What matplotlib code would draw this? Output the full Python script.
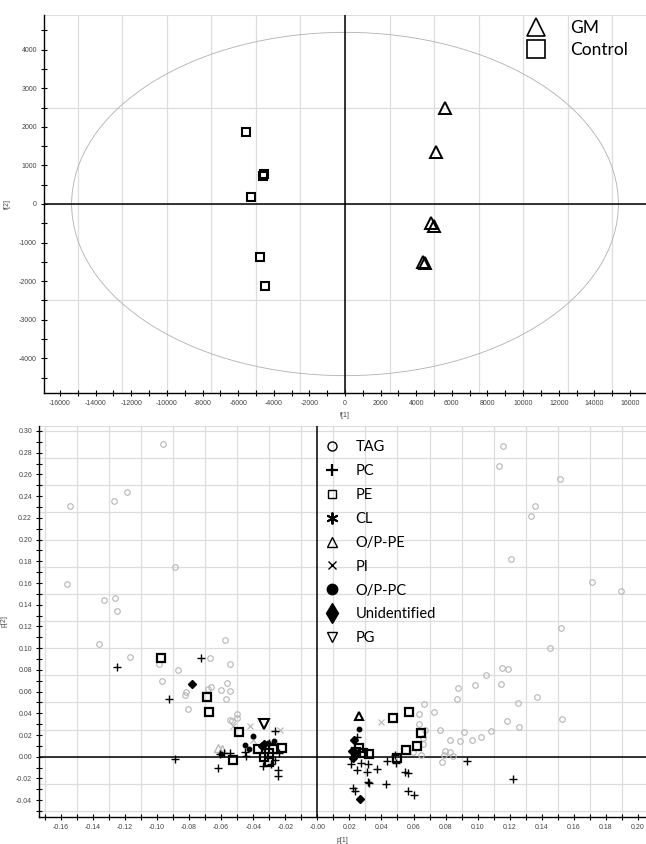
import numpy as np
import matplotlib.pyplot as plt
from matplotlib.patches import Ellipse
from matplotlib.lines import Line2D
from matplotlib.ticker import MultipleLocator, FuncFormatter

plt.rcParams['font.family'] = ['Liberation Sans', 'DejaVu Sans']

# ==============================
# SCORES (t[1], t[2])
# ==============================
gm_t1 = [5600, 5090, 4830, 5015, 4400, 4510]
gm_t2 = [2480, 1355, -485, -570, -1495, -1540]
ctrl_t1 = [-5575, -4550, -4600, -5300, -4750, -4500]
ctrl_t2 = [1873, 780, 730, 190, -1370, -2115]
ellipse_t1 = 15350
ellipse_t2 = 4450

# ==============================
# LOADINGS (p[1], p[2])
# ==============================
tag_p1 = [-0.096, -0.154, -0.127, -0.119, -0.0886, -0.156, -0.133, -0.1264, -0.125, -0.1364,
          -0.1168, -0.0986, -0.0967, -0.0869, -0.0576, -0.0667, -0.0547, -0.0563, -0.0545, -0.0603,
          -0.0571, -0.0665, -0.0682, -0.0817, -0.0827, -0.0807, -0.0503, -0.0503, -0.0547, -0.0532,
          0.1157, 0.1134, 0.1516, 0.1358, 0.1331, 0.121, 0.1714, 0.1895, 0.152, 0.145,
          0.115, 0.1188, 0.105, 0.1146, 0.0984, 0.0876, 0.0872, 0.1371, 0.1252, 0.0668,
          0.0728, 0.0634, 0.1527, 0.1183, 0.0634, 0.126, 0.0672, 0.0763, 0.0915, 0.1085,
          0.0661, 0.0826, 0.089, 0.0965, 0.1019, 0.0659, 0.0797, 0.0828, 0.0595, 0.0787,
          0.0848, 0.0647, 0.0776]
tag_p2 = [0.288, 0.231, 0.2355, 0.244, 0.1747, 0.159, 0.1443, 0.1465, 0.1345, 0.1038,
          0.0915, 0.0857, 0.0697, 0.0796, 0.1072, 0.0912, 0.0857, 0.0682, 0.0608, 0.0617,
          0.0531, 0.0639, 0.0621, 0.0599, 0.0566, 0.0442, 0.0396, 0.036, 0.0341, 0.0326,
          0.2862, 0.2675, 0.2555, 0.2309, 0.2217, 0.1824, 0.1609, 0.1526, 0.1186, 0.1001,
          0.0814, 0.0808, 0.075, 0.0672, 0.066, 0.0633, 0.0529, 0.0547, 0.0497, 0.0485,
          0.0415, 0.0396, 0.035, 0.0332, 0.0304, 0.0276, 0.0246, 0.0249, 0.0225, 0.024,
          0.0169, 0.0157, 0.0142, 0.0157, 0.0184, 0.012, 0.0052, 0.0043, 0.0041, 0.0018,
          0.0004, 0.0013, -0.0046]

pc_p1 = [-0.1251, -0.0724, -0.0927, -0.089, -0.0618, -0.0607, -0.058, -0.0545, -0.0451, -0.0447,
         -0.0264, -0.0299, -0.0337, -0.0289, -0.0247, -0.0247, -0.0239, -0.0264,
         0.0246, 0.021, 0.0246, 0.0271, 0.0314, 0.031, 0.037, 0.0314, 0.0324, 0.0225,
         0.0237, 0.0429, 0.0433, 0.0485, 0.0491, 0.0547, 0.0564, 0.0568, 0.0603, 0.0932, 0.1219]
pc_p2 = [0.0829, 0.0909, 0.0529, -0.0021, -0.0107, 0.0025, 0.0031, 0.0037, 0.0046, 0.0006,
         0.0235, 0.0129, -0.0086, -0.0067, -0.0123, -0.0178, 0.0031, -0.003,
         0.0179, -0.007, -0.0123, -0.0061, -0.007, -0.0144, -0.011, -0.0236, -0.0245, -0.0288,
         -0.0313, -0.0254, -0.0037, 0.0013, -0.0061, -0.0138, -0.0153, -0.0316, -0.0356, -0.0037, -0.0203]

pe_p1 = [-0.0975, -0.069, -0.0674, -0.0488, -0.0524, -0.0372, -0.0274, -0.0218, -0.0299, -0.0331,
         -0.0299, 0.0474, 0.0574, 0.0649, 0.062, 0.0551, 0.0499, 0.0283, 0.0323, 0.0262, 0.0241]
pe_p2 = [0.0906, 0.0547, 0.0409, 0.0225, -0.003, 0.0068, 0.0068, 0.0077, 0.0031, -0.0006,
         -0.0046, 0.0354, 0.0415, 0.0221, 0.0101, 0.0062, -0.0015, 0.0031, 0.0022, 0.0077, 0.0046]

ope_p1 = [0.0262]
ope_p2 = [0.0378]
ope_grey_p1 = [-0.0618, -0.0597]
ope_grey_p2 = [0.0077, 0.0072]

pi_p1 = [-0.0528, -0.042, -0.0233, -0.040, 0.0395]
pi_p2 = [0.0283, 0.0283, 0.0246, 0.0154, 0.0317]

opc_p1 = [-0.0403, -0.0451, -0.027, -0.031, -0.0424, -0.0603, 0.0262]
opc_p2 = [0.0194, 0.0105, 0.0145, 0.0123, 0.0068, 0.0022, 0.0252]

unid_p1 = [-0.078, -0.0331, -0.0347, 0.0231, 0.0216, 0.0235, 0.0225, 0.0268]
unid_p2 = [0.0672, 0.0114, 0.0101, 0.0154, 0.0052, 0.0046, -0.001, -0.0392]

pg_p1 = [-0.0331]
pg_p2 = [0.0301]

legend_labels = ["TAG", "PC", "PE", "CL", "O/P-PE", "PI", "O/P-PC", "Unidentified", "PG"]

GREY = "#b5b5b5"
GRID = "#dddddd"
TICKC = "#444444"


def style_axes(ax):
    for s in ["top", "right"]:
        ax.spines[s].set_visible(False)
    for s in ["left", "bottom"]:
        ax.spines[s].set_color("black")
        ax.spines[s].set_linewidth(1.0)
    ax.tick_params(which="both", direction="inout", length=4, width=0.8,
                   labelsize=5, labelcolor=TICKC, pad=3)
    ax.set_axisbelow(True)


fig = plt.figure(figsize=(6.46, 8.44), dpi=100)
W, H = 646, 844

# ==============================
# TOP: SCORE PLOT
# ==============================
ax1 = fig.add_axes([44 / W, 1 - 393 / H, (W - 44) / W, (393 - 15) / H])
ax1.set_xlim(-16900, 16900)
ax1.set_ylim(-4900, 4900)
for g in np.arange(-15000, 15001, 2500):
    ax1.axvline(g, color=GRID, lw=0.9, zorder=0)
for g in np.arange(-2500, 2501, 2500):
    ax1.axhline(g, color=GRID, lw=0.9, zorder=0)
ax1.axhline(4900, color=GRID, lw=1.5, zorder=0)
ax1.add_patch(Ellipse((0, 0), 2 * ellipse_t1, 2 * ellipse_t2, fill=False,
                      edgecolor="#b0b0b0", lw=0.6, zorder=1))
ax1.axhline(0, color="black", lw=1.1, zorder=2)
ax1.axvline(0, color="black", lw=1.1, zorder=2)

ax1.plot(gm_t1, gm_t2, ls="none", marker="^", ms=8.5, mfc="none", mec="black", mew=1.4, zorder=3)
ax1.plot(ctrl_t1, ctrl_t2, ls="none", marker="s", ms=6, mfc="none", mec="black", mew=1.5, zorder=3)

ax1.xaxis.set_major_locator(MultipleLocator(2000))
ax1.xaxis.set_minor_locator(MultipleLocator(1000))
ax1.yaxis.set_major_locator(MultipleLocator(1000))
ax1.yaxis.set_minor_locator(MultipleLocator(500))
ax1.xaxis.set_major_formatter(FuncFormatter(lambda v, p: f"{v:.0f}"))
ax1.yaxis.set_major_formatter(FuncFormatter(lambda v, p: f"{v:.0f}"))
style_axes(ax1)
ax1.set_xlabel("t[1]", fontsize=5, color=TICKC, labelpad=4)
ax1.set_ylabel("t[2]", fontsize=5, color=TICKC, labelpad=6)

top_handles = [
    Line2D([], [], ls="none", marker="^", ms=13, mfc="none", mec="black", mew=1.2),
    Line2D([], [], ls="none", marker="s", ms=12.5, mfc="none", mec="black", mew=1.2),
]
ax1.legend(top_handles, ["GM", "Control"], loc="upper left",
           bbox_to_anchor=(526 / W, 1 - 20 / H), bbox_transform=fig.transFigure,
           frameon=False, prop={"family": "Lato", "size": 12.5},
           handlelength=1.2, handletextpad=1.35, labelspacing=0.35, borderpad=0, borderaxespad=0)

# ==============================
# BOTTOM: LOADING PLOT
# ==============================
ax2 = fig.add_axes([39 / W, 1 - 817 / H, (W - 39) / W, (817 - 426) / H])
ax2.set_xlim(-0.1736, 0.205)
ax2.set_ylim(-0.0555, 0.3046)
for g in np.arange(-0.17, 0.2, 0.02):
    ax2.axvline(g, color=GRID, lw=0.9, zorder=0)
for g in np.arange(-0.05, 0.301, 0.025):
    ax2.axhline(g, color=GRID, lw=0.9, zorder=0)
ax2.axhline(0.3046, color=GRID, lw=1.5, zorder=0)
ax2.axhline(0, color="black", lw=1.1, zorder=2)
ax2.axvline(0, color="black", lw=1.1, zorder=2)

ax2.plot(tag_p1, tag_p2, ls="none", marker="o", ms=4, mfc="none", mec=GREY, mew=0.8, zorder=3)
ax2.plot(pi_p1, pi_p2, ls="none", marker="x", ms=4.5, mec=GREY, mew=0.8, zorder=3)
ax2.plot(ope_grey_p1, ope_grey_p2, ls="none", marker="^", ms=5.5, mfc="none", mec=GREY, mew=0.9, zorder=3)
ax2.plot(pc_p1, pc_p2, ls="none", marker="+", ms=5.5, mec="black", mew=1.0, zorder=4)
ax2.plot(pe_p1, pe_p2, ls="none", marker="s", ms=5.3, mfc="none", mec="black", mew=1.6, zorder=4)
ax2.plot(ope_p1, ope_p2, ls="none", marker="^", ms=6, mfc="none", mec="black", mew=1.5, zorder=4)
ax2.plot(opc_p1, opc_p2, ls="none", marker="o", ms=3.2, mfc="black", mec="black", zorder=4)
ax2.plot(unid_p1, unid_p2, ls="none", marker="D", ms=4.5, mfc="black", mec="black", zorder=4)
ax2.plot(pg_p1, pg_p2, ls="none", marker="v", ms=7, mfc="none", mec="black", mew=1.5, zorder=4)

ax2.xaxis.set_major_locator(MultipleLocator(0.02))
ax2.xaxis.set_minor_locator(MultipleLocator(0.01))
ax2.yaxis.set_major_locator(MultipleLocator(0.02))
ax2.yaxis.set_minor_locator(MultipleLocator(0.01))
ax2.xaxis.set_major_formatter(FuncFormatter(lambda v, p: "-0.00" if abs(v) < 1e-9 else f"{v:.2f}"))
ax2.yaxis.set_major_formatter(FuncFormatter(lambda v, p: "0.00" if abs(v) < 1e-9 else f"{v:.2f}"))
style_axes(ax2)
ax2.set_xlabel("p[1]", fontsize=5, color=TICKC, labelpad=4)
ax2.set_ylabel("p[2]", fontsize=5, color=TICKC, labelpad=6)

bot_handles = [
    Line2D([], [], ls="none", marker="o", ms=6.5, mfc="none", mec="black", mew=1.0),
    Line2D([], [], ls="none", marker="+", ms=9, mec="black", mew=1.6),
    Line2D([], [], ls="none", marker="s", ms=6, mfc="none", mec="black", mew=1.0),
    Line2D([], [], ls="none", marker=(6, 2, 0), ms=8.5, mec="black", mew=1.4),
    Line2D([], [], ls="none", marker="^", ms=7, mfc="none", mec="black", mew=1.0),
    Line2D([], [], ls="none", marker="x", ms=6, mec="black", mew=1.0),
    Line2D([], [], ls="none", marker="o", ms=7.5, mfc="black", mec="black"),
    Line2D([], [], ls="none", marker="d", ms=10, mfc="black", mec="black"),
    Line2D([], [], ls="none", marker="v", ms=7, mfc="none", mec="black", mew=1.0),
]
ax2.legend(bot_handles, legend_labels, loc="upper left",
           bbox_to_anchor=(325 / W, 1 - 440 / H), bbox_transform=fig.transFigure,
           frameon=False, prop={"family": "Lato", "size": 10.5},
           handlelength=1.0, handletextpad=1.1, labelspacing=0.68, borderpad=0, borderaxespad=0)

plt.savefig("out.png", dpi=100)
